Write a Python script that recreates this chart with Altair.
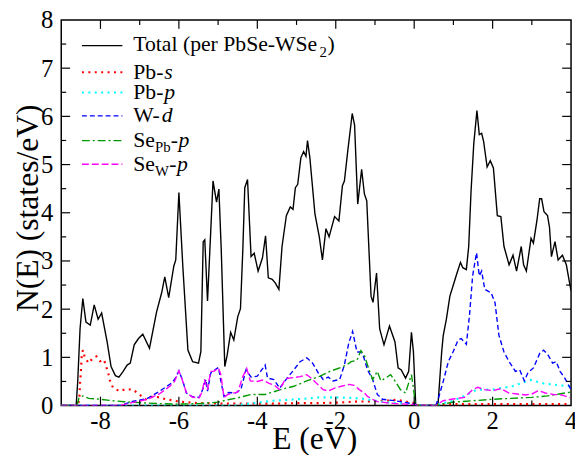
import altair as alt
import pandas as pd

# ---------------- data ----------------
E_total = [-9.0, -8.62, -8.58, -8.52, -8.45, -8.37, -8.26, -8.16, -8.06, -7.97, -7.83, -7.73, -7.62,
           -7.53, -7.43, -7.32, -7.24, -7.14, -7.03, -6.92, -6.75, -6.57, -6.44, -6.36, -6.26, -6.13,
           -6.08, -6.00, -5.90, -5.77, -5.65, -5.50, -5.44, -5.38, -5.34, -5.27, -5.21, -5.13, -5.04,
           -4.98, -4.92, -4.83, -4.77, -4.68, -4.60, -4.50, -4.43, -4.37, -4.32, -4.25, -4.16, -4.08,
           -3.98, -3.87, -3.79, -3.72, -3.62, -3.54, -3.45, -3.37, -3.26, -3.16, -3.09, -3.03, -2.97,
           -2.89, -2.82, -2.76, -2.72, -2.66, -2.53, -2.42, -2.34, -2.25, -2.17, -2.03, -1.92, -1.83,
           -1.78, -1.69, -1.58, -1.52, -1.44, -1.34, -1.27, -1.21, -1.10, -1.05, -0.96, -0.88, -0.77,
           -0.63, -0.49, -0.41, -0.33, -0.22, -0.14, -0.07, -0.02, 0.04, 0.55, 0.61, 0.70, 0.74, 0.82,
           0.91, 0.99, 1.08, 1.18, 1.24, 1.33, 1.39, 1.45, 1.52, 1.60, 1.66, 1.72, 1.77, 1.86, 1.94,
           2.02, 2.12, 2.21, 2.29, 2.42, 2.52, 2.61, 2.73, 2.79, 2.86, 2.98, 3.04, 3.13, 3.20, 3.25,
           3.31, 3.40, 3.45, 3.50, 3.59, 3.67, 3.78, 3.88, 3.97, 4.00]
N_total = [0.0, 0.0, 0.5, 1.6, 2.22, 1.73, 1.67, 2.09, 1.79, 1.92, 1.32, 0.81, 0.62,
           0.59, 0.70, 0.84, 0.88, 1.26, 1.39, 1.48, 1.19, 1.94, 2.34, 2.67, 2.24, 2.89,
           3.02, 4.42, 2.89, 1.15, 0.91, 0.88, 1.12, 3.40, 3.44, 2.17, 3.23, 4.66, 4.22,
           4.49, 3.23, 0.81, 1.04, 1.52, 1.36, 1.84, 2.01, 3.23, 4.52, 4.69, 3.09, 3.16,
           2.79, 3.06, 3.52, 2.65, 2.62, 2.54, 2.41, 3.30, 3.94, 4.12, 4.07, 4.52, 4.59,
           5.14, 5.27, 5.17, 5.50, 5.14, 3.97, 3.50, 3.02, 3.67, 3.50, 3.92, 3.83, 4.56,
           4.66, 5.31, 6.06, 5.82, 4.18, 4.90, 4.39, 4.25, 2.27, 2.14, 2.75, 1.59, 1.26,
           1.65, 1.32, 0.78, 0.74, 0.57, 0.71, 1.52, 1.12, 0.0, 0.0, 0.05, 1.10, 1.45, 1.79,
           2.27, 2.48, 2.72, 2.97, 2.86, 2.82, 3.30, 4.45, 5.44, 6.12, 5.62, 5.65, 5.48, 4.95, 5.08,
           4.93, 3.94, 3.92, 3.30, 2.92, 3.12, 2.79, 3.30, 2.92, 2.79, 3.47, 3.37, 3.84, 4.29, 4.29,
           4.02, 3.94, 3.70, 3.09, 3.40, 3.02, 3.12, 2.92, 2.51, 2.38]

E_pbs = [-9.0, -8.58, -8.54, -8.52, -8.50, -8.48, -8.45, -8.40, -8.30, -8.20, -8.10, -8.01, -7.91,
         -7.80, -7.76, -7.68, -7.52, -7.35, -7.17, -7.01, -6.84, -6.67, -6.50, -6.33, -6.17, -6.00,
         -5.50, -5.00, -4.50, -4.00, -3.50, -3.00, -2.50, -2.00, -1.50, -1.00, -0.70, -0.45, -0.20,
         0.03, 0.06, 0.55, 0.60, 1.00, 2.00, 3.00, 4.00]
N_pbs = [0.0, 0.0, 0.13, 0.47, 0.69, 1.00, 1.15, 1.00, 0.88, 0.98, 1.02, 0.92, 0.95,
         0.67, 0.52, 0.37, 0.30, 0.34, 0.33, 0.23, 0.13, 0.19, 0.17, 0.13, 0.11, 0.08,
         0.05, 0.04, 0.04, 0.04, 0.04, 0.05, 0.05, 0.06, 0.08, 0.09, 0.10, 0.12, 0.08,
         0.05, 0.0, 0.0, 0.02, 0.03, 0.03, 0.03, 0.03]

E_pbp = [-9.0, -4.6, -4.3, -4.0, -3.6, -3.2, -2.8, -2.4, -2.0, -1.6, -1.3, -1.0, -0.6, -0.2, 0.03,
         0.06, 0.55, 0.70, 1.00, 1.20, 1.60, 2.00, 2.50, 2.96, 3.30, 3.70, 4.00]
N_pbp = [0.0, 0.0, 0.03, 0.06, 0.10, 0.12, 0.14, 0.17, 0.17, 0.16, 0.14, 0.10, 0.06, 0.04, 0.02,
         0.0, 0.0, 0.04, 0.10, 0.17, 0.33, 0.33, 0.40, 0.53, 0.46, 0.42, 0.40]

E_wd = [-9.0, -7.5, -7.16, -6.82, -6.49, -6.23, -6.11, -6.00, -5.90, -5.81, -5.65, -5.48, -5.40,
        -5.31, -5.27, -5.19, -5.08, -4.99, -4.93, -4.85, -4.73, -4.56, -4.42, -4.29, -4.16, -4.00,
        -3.80, -3.74, -3.58, -3.43, -3.24, -3.07, -2.91, -2.74, -2.59, -2.44, -2.32, -2.19, -2.07,
        -1.90, -1.78, -1.67, -1.57, -1.46, -1.37, -1.30, -1.19, -1.06, -0.94, -0.81, -0.50, -0.20,
        0.03, 0.06, 0.55, 0.61, 0.74, 0.87, 0.99, 1.12, 1.20, 1.33, 1.41, 1.49, 1.59, 1.66, 1.72,
        1.80, 1.96, 2.06, 2.16, 2.29, 2.42, 2.58, 2.69, 2.81, 2.90, 3.04, 3.20, 3.30, 3.42, 3.53,
        3.62, 3.72, 3.84, 4.00]
N_wd = [0.0, 0.0, 0.09, 0.14, 0.30, 0.44, 0.54, 0.72, 0.51, 0.26, 0.18, 0.17, 0.32,
        0.54, 0.30, 0.67, 0.74, 0.79, 0.51, 0.19, 0.27, 0.26, 0.33, 0.74, 0.59, 0.61,
        0.84, 0.57, 0.54, 0.36, 0.57, 0.74, 0.91, 0.99, 0.88, 0.67, 0.54, 0.59, 0.51,
        0.54, 0.84, 1.29, 1.54, 1.11, 1.11, 1.04, 0.74, 0.54, 0.23, 0.13, 0.10, 0.06,
        0.03, 0.0, 0.0, 0.13, 0.50, 0.91, 1.11, 1.36, 1.39, 1.27, 1.87, 2.69, 3.17, 2.69, 2.79,
        2.41, 2.34, 2.14, 1.46, 1.11, 0.91, 0.71, 0.74, 0.51, 0.68, 0.78, 1.08, 1.15, 1.04, 0.88,
        0.91, 0.71, 0.57, 0.33]

E_sepb = [-9.0, -8.6, -8.55, -8.45, -8.3, -8.0, -7.7, -7.4, -7.0, -6.5, -6.0, -5.5, -5.0, -4.75,
          -4.50, -4.16, -3.80, -3.41, -3.07, -2.74, -2.40, -2.15, -1.90, -1.73, -1.61, -1.46, -1.36,
          -1.27, -1.19, -1.06, -0.94, -0.85, -0.73, -0.60, -0.48, -0.35, -0.22, -0.14, -0.07, -0.02,
          0.03, 0.06, 0.55, 0.70, 1.00, 1.50, 2.00, 2.50, 3.00, 3.40, 3.70, 4.00]
N_sepb = [0.0, 0.0, 0.15, 0.20, 0.15, 0.13, 0.10, 0.08, 0.06, 0.04, 0.03, 0.04, 0.07, 0.12,
          0.16, 0.23, 0.23, 0.33, 0.40, 0.51, 0.61, 0.71, 0.78, 0.84, 0.91, 0.94, 1.14,
          1.04, 0.84, 0.54, 0.71, 0.51, 0.57, 0.64, 0.50, 0.33, 0.26, 0.47, 0.64, 0.36,
          0.02, 0.0, 0.0, 0.03, 0.07, 0.10, 0.13, 0.15, 0.17, 0.20, 0.24, 0.28]

E_sew = [-9.0, -7.5, -7.2, -6.8, -6.5, -6.23, -6.11, -6.00, -5.90, -5.81, -5.65, -5.48, -5.40,
         -5.35, -5.27, -5.19, -5.11, -4.99, -4.93, -4.85, -4.75, -4.50, -4.37, -4.27, -4.18, -4.00,
         -3.87, -3.70, -3.58, -3.43, -3.28, -3.07, -2.91, -2.74, -2.61, -2.49, -2.32, -2.19, -2.03,
         -1.86, -1.65, -1.53, -1.40, -1.27, -1.19, -1.06, -0.94, -0.50, 0.03, 0.06, 0.55, 0.74,
         1.03, 1.28, 1.49, 1.62, 1.79, 2.00, 2.21, 2.42, 2.62, 2.84, 3.00, 3.17, 3.34, 3.55, 3.76,
         3.97]
N_sew = [0.0, 0.0, 0.06, 0.13, 0.24, 0.40, 0.50, 0.72, 0.50, 0.27, 0.17, 0.16, 0.30,
         0.54, 0.33, 0.71, 0.71, 0.78, 0.64, 0.17, 0.23, 0.28, 0.60, 0.77, 0.51, 0.50,
         0.53, 0.46, 0.43, 0.33, 0.56, 0.58, 0.60, 0.64, 0.56, 0.46, 0.33, 0.30, 0.36,
         0.40, 0.44, 0.42, 0.33, 0.26, 0.19, 0.13, 0.08, 0.04, 0.02, 0.0, 0.0, 0.10,
         0.14, 0.17, 0.33, 0.38, 0.33, 0.31, 0.35, 0.26, 0.24, 0.22, 0.24, 0.31, 0.26, 0.23, 0.22,
         0.16]

x_tick_labels = [-8, -6, -4, -2, 0, 2, 4]
x_minor = [-7, -5, -3, -1, 1, 3]
x_major_inner = [-8, -6, -4, -2, 0, 2]
y_tick_labels = [0, 1, 2, 3, 4, 5, 6, 7, 8]
y_major_inner = [1, 2, 3, 4, 5, 6, 7]
y_minor = [0.5, 1.5, 2.5, 3.5, 4.5, 5.5, 6.5, 7.5]

x_title = "E (eV)"
y_title = "N(E) (states/eV)"

# ---------------- layout / style ----------------
W, H = 517, 391
FONT = "Liberation Serif"
xscale = alt.Scale(domain=[-9, 4], nice=False, zero=False)
yscale = alt.Scale(domain=[0, 8], nice=False, zero=False)


def series(E, N, color, width, dash=None):
    df = pd.DataFrame({"E": E, "N": N})
    kw = dict(color=color, strokeWidth=width, clip=True)
    if dash is not None:
        kw["strokeDash"] = dash
    return alt.Chart(df).mark_line(**kw).encode(
        x=alt.X("E:Q", scale=xscale, axis=None),
        y=alt.Y("N:Q", scale=yscale, axis=None),
        order=alt.Order("E:Q"),
    )


def xticks(vals, length, top):
    df = pd.DataFrame({"E": vals})
    y0, y1 = (0, length) if top else (H, H - length)
    return alt.Chart(df).mark_rule(color="black", strokeWidth=1.2).encode(
        x=alt.X("E:Q", scale=xscale, axis=None), y=alt.value(y0), y2=alt.value(y1))


def yticks(vals, length, right):
    df = pd.DataFrame({"N": vals})
    x0, x1 = (W, W - length) if right else (0, length)
    return alt.Chart(df).mark_rule(color="black", strokeWidth=1.2).encode(
        y=alt.Y("N:Q", scale=yscale, axis=None), x=alt.value(x0), x2=alt.value(x1))


# tick labels (plain hyphen-minus, as in the reference)
xlab_df = pd.DataFrame({"E": x_tick_labels, "lab": [str(v) for v in x_tick_labels]})
ylab_df = pd.DataFrame({"N": y_tick_labels, "lab": [str(v) for v in y_tick_labels]})
LABEL_SIZE = 25

x_labels = alt.Chart(xlab_df).mark_text(
    font=FONT, fontSize=LABEL_SIZE, color="black", align="center", baseline="alphabetic"
).encode(x=alt.X("E:Q", scale=xscale, axis=None), y=alt.value(H + 24), text="lab:N")

y_labels = alt.Chart(ylab_df).mark_text(
    font=FONT, fontSize=LABEL_SIZE, color="black", align="right", baseline="alphabetic", dy=8.5
).encode(y=alt.Y("N:Q", scale=yscale, axis=None), x=alt.value(-8), text="lab:N")

one = pd.DataFrame({"a": [0]})

x_title_mark = alt.Chart(one).mark_text(
    text=x_title, font=FONT, fontSize=32, color="black", align="center", baseline="alphabetic"
).encode(x=alt.value(257), y=alt.value(435))

y_title_mark = alt.Chart(one).mark_text(
    text=y_title, font=FONT, fontSize=32, color="black", align="center", baseline="alphabetic",
    angle=270
).encode(x=alt.value(-24), y=alt.value(191))


def leg_line(y, color, width, dash=None):
    kw = dict(color=color, strokeWidth=width)
    if dash is not None:
        kw["strokeDash"] = dash
    return alt.Chart(one).mark_rule(**kw).encode(
        x=alt.value(21), x2=alt.value(62), y=alt.value(y))


def leg_text(txt, x, y, size=22, italic=False):
    kw = dict(text=txt, font=FONT, fontSize=size, color="black", align="left",
              baseline="alphabetic")
    if italic:
        kw["fontStyle"] = "italic"
    return alt.Chart(one).mark_text(**kw).encode(x=alt.value(x), y=alt.value(y))


RED, CYAN, BLUE, GREEN, MAGENTA = "#ff0000", "#00ffff", "#0000ff", "#009a00", "#ff00ff"
D_DOT = [2, 4.5]
D_BLUE = [5, 3]
D_GREEN = [8, 3, 2, 3]
D_MAG = [7, 3]

layers = [
    series(E_total, N_total, "black", 1.4),
    series(E_pbs, N_pbs, RED, 2.2, D_DOT),
    series(E_pbp, N_pbp, CYAN, 2.2, D_DOT),
    series(E_wd, N_wd, BLUE, 1.4, D_BLUE),
    series(E_sepb, N_sepb, GREEN, 1.4, D_GREEN),
    series(E_sew, N_sew, MAGENTA, 1.4, D_MAG),
    xticks(x_major_inner, 9, False), xticks(x_major_inner, 9, True),
    xticks(x_minor, 5, False), xticks(x_minor, 5, True),
    yticks(y_major_inner, 9, False), yticks(y_major_inner, 9, True),
    yticks(y_minor, 5, False), yticks(y_minor, 5, True),
    x_labels, y_labels, x_title_mark, y_title_mark,
    # legend
    leg_line(26, "black", 1.4),
    leg_text("Total (per PbSe-WSe", 73, 31.5),
    leg_text("2", 262, 38, 15),
    leg_text(")", 270, 31.5),
    leg_line(53, RED, 2.2, D_DOT),
    leg_text("Pb-", 73, 60), leg_text("s", 104.5, 60, italic=True),
    leg_line(73.5, CYAN, 2.2, D_DOT),
    leg_text("Pb-", 73, 80.5), leg_text("p", 104.5, 80.5, italic=True),
    leg_line(97.3, BLUE, 1.4, D_BLUE),
    leg_text("W-", 73, 103.7), leg_text("d", 102, 103.7, italic=True),
    leg_line(122.3, GREEN, 1.4, D_GREEN),
    leg_text("Se", 73, 128.7), leg_text("Pb", 95, 133.7, 15),
    leg_text("-", 111, 128.7), leg_text("p", 119, 128.7, italic=True),
    leg_line(146.3, MAGENTA, 1.4, D_MAG),
    leg_text("Se", 73, 153), leg_text("W", 95, 158, 15),
    leg_text("-", 109.5, 153), leg_text("p", 117.5, 153, italic=True),
]

chart = alt.layer(*layers).properties(
    width=W, height=H,
    padding={"left": 54, "top": 9, "right": 4, "bottom": 47},
    autosize=alt.AutoSizeParams(type="none"),
    background="white",
).configure_view(
    stroke="black", strokeWidth=1.5
)

chart.save("out.html", embed_options={"renderer": "svg", "actions": False})
